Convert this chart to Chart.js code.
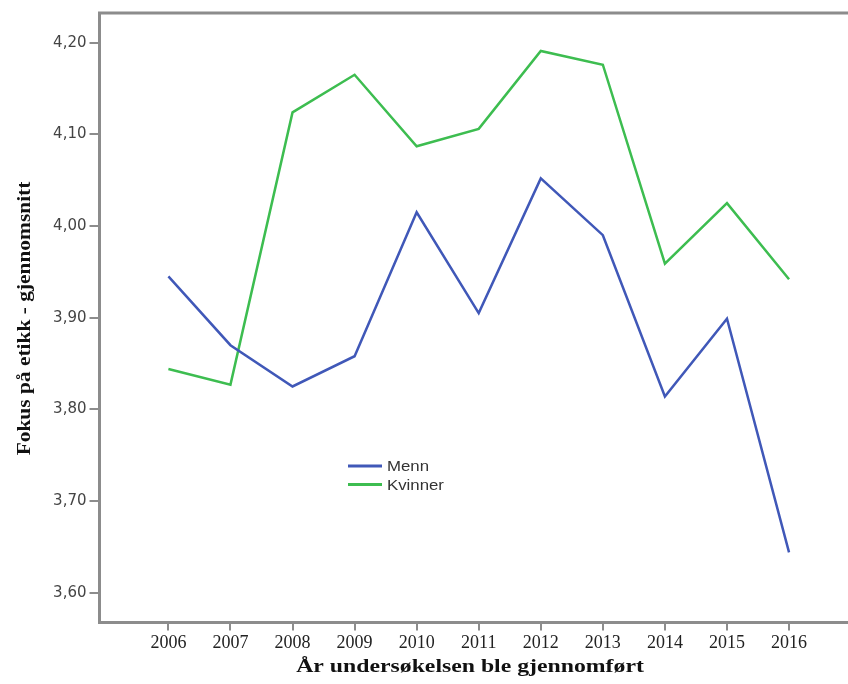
<!DOCTYPE html>
<html><head><meta charset="utf-8">
<script src="https://cdn.jsdelivr.net/npm/chart.js@4/dist/chart.umd.min.js"></script>
<style>html,body{margin:0;padding:0;background:#fff;}#wrap{width:848px;height:684px;}</style>
</head><body><div id="wrap"><canvas id="c" width="848" height="684"></canvas></div>
<script>
const years = [2006, 2007, 2008, 2009, 2010, 2011, 2012, 2013, 2014, 2015, 2016];
const menn = [3.945, 3.870, 3.825, 3.858, 4.015, 3.905, 4.052, 3.990, 3.814, 3.899, 3.644];
const kvinner = [3.844, 3.827, 4.124, 4.165, 4.087, 4.106, 4.191, 4.176, 3.959, 4.025, 3.942];
const yTickValues = [3.60, 3.70, 3.80, 3.90, 4.00, 4.10, 4.20];
const seriesNames = ['Menn', 'Kvinner'];
const xTitle = 'År undersøkelsen ble gjennomført';
const yTitle = 'Fokus på etikk - gjennomsnitt';

const toPoints = arr => years.map((y, i) => ({x: y, y: arr[i]}));

const framePlugin = {
  id: 'frame',
  beforeDatasetsDraw(chart) {
    const {ctx, chartArea: a, width} = chart;
    ctx.save();
    ctx.strokeStyle = '#8c8c8c';
    ctx.lineWidth = 3;
    ctx.beginPath();
    ctx.moveTo(width + 2, a.top);
    ctx.lineTo(a.left, a.top);
    ctx.lineTo(a.left, a.bottom);
    ctx.lineTo(width + 2, a.bottom);
    ctx.stroke();
    ctx.restore();
  },
  afterDraw(chart) {
    const {ctx, chartArea: a} = chart;
    ctx.save();
    ctx.fillStyle = '#111';
    ctx.textAlign = 'center';
    ctx.textBaseline = 'middle';
    ctx.font = 'bold 19px "Liberation Serif"';
    ctx.save();
    ctx.translate(470, 667);
    ctx.scale(1.25, 1);
    ctx.fillText(xTitle, 0, 0);
    ctx.restore();
    ctx.font = 'bold 18px "Liberation Serif"';
    ctx.save();
    ctx.translate(25, 318.5);
    ctx.rotate(-Math.PI / 2);
    ctx.scale(1.19, 1);
    ctx.fillText(yTitle, 0, 0);
    ctx.restore();
    // legend
    const lx = 348, ly = 466, gap = 18.5;
    chart.data.datasets.forEach((ds, i) => {
      const y = ly + i * gap;
      ctx.strokeStyle = ds.borderColor;
      ctx.lineWidth = 3;
      ctx.beginPath();
      ctx.moveTo(lx, y);
      ctx.lineTo(lx + 34, y);
      ctx.stroke();
      ctx.save();
      ctx.translate(lx + 39, y + 1);
      ctx.scale(1.12, 1);
      ctx.font = '15px "Liberation Sans"';
      ctx.fillStyle = '#333';
      ctx.textAlign = 'left';
      ctx.fillText(ds.label, 0, 0);
      ctx.restore();
    });
    ctx.restore();
  }
};

new Chart(document.getElementById('c'), {
  type: 'line',
  data: {
    datasets: [
      {label: seriesNames[0], data: toPoints(menn), borderColor: '#4058b8', borderWidth: 2.5, pointRadius: 0, tension: 0, fill: false},
      {label: seriesNames[1], data: toPoints(kvinner), borderColor: '#3dbd50', borderWidth: 2.5, pointRadius: 0, tension: 0, fill: false}
    ]
  },
  options: {
    responsive: false,
    devicePixelRatio: 1,
    animation: false,
    layout: {padding: {top: 13, right: 0, left: 0, bottom: 0}},
    plugins: {legend: {display: false}, tooltip: {enabled: false}, title: {display: false}},
    scales: {
      x: {
        type: 'linear',
        min: 2004.89,
        max: 2016.95,
        afterBuildTicks: s => { s.ticks = years.map(v => ({value: v})); },
        afterFit: s => { s.height = 61.5; },
        ticks: {
          autoSkip: false, maxRotation: 0, padding: 2, color: '#222',
          font: {family: '"Liberation Serif"', size: 18},
          callback: v => String(v)
        },
        grid: {drawOnChartArea: false, drawTicks: true, tickLength: 8, color: '#8c8c8c', lineWidth: 2},
        border: {display: false}
      },
      y: {
        min: 3.5675,
        max: 4.2324,
        afterBuildTicks: s => { s.ticks = yTickValues.map(v => ({value: v})); },
        afterFit: s => { s.width = 99.5; },
        ticks: {
          padding: 3, color: '#444',
          font: {family: '"DejaVu Sans"', size: 15},
          callback: v => v.toFixed(2).replace('.', ',')
        },
        grid: {drawOnChartArea: false, drawTicks: true, tickLength: 10, color: '#8c8c8c', lineWidth: 2},
        border: {display: false}
      }
    }
  },
  plugins: [framePlugin]
});
</script></body></html>
